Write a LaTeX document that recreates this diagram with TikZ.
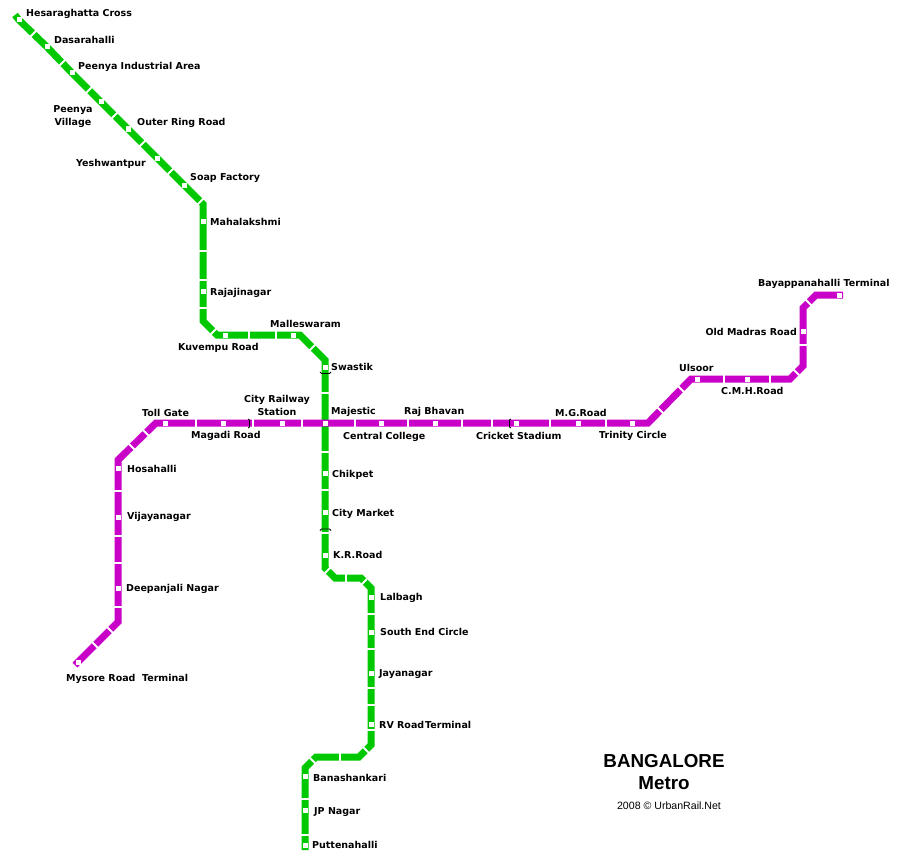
\documentclass[tikz,border=0pt]{standalone}
\usepackage{fontspec}
\setmainfont{DejaVu Sans}
\newfontfamily\titlefont{Liberation Sans}
\usetikzlibrary{positioning,backgrounds}
\definecolor{greenline}{RGB}{0,200,0}
\definecolor{purpleline}{RGB}{200,0,200}
\tikzset{
    stn/.style={rectangle, fill=white, minimum size=5pt, inner sep=0pt},
    lbl/.style={font=\fontsize{9.5}{13}\selectfont\bfseries, inner sep=0pt, anchor=west, text height=7pt, text depth=2pt},
    greenrun/.style={draw=greenline, line width=7pt},
    purplerun/.style={draw=purpleline, line width=7pt},
    gapv/.style={rectangle, fill=white, minimum width=2pt, minimum height=11pt, inner sep=0pt},
    gaph/.style={rectangle, fill=white, minimum width=11pt, minimum height=2pt, inner sep=0pt},
    gapne/.style={gapv, rotate=-45},
    gapnw/.style={gapv, rotate=45},
    portal/.style={draw=black, line width=0.8pt}
}

\begin{document}
\begin{tikzpicture}[x=1pt, y=-1pt]
    \useasboundingbox (0,0) rectangle (904,864);

    % green line stations
    \coordinate (gstart) at (15,15);
    \node[stn] (hesaraghatta) at (19,20) {};
    \node[stn] (dasarahalli) at (47,47) {};
    \node[stn] (peenyaind) at (72,73) {};
    \node[stn] (peenyavil) at (101,102) {};
    \node[stn] (outerring) at (128,129) {};
    \node[stn] (yeshwantpur) at (157,158) {};
    \node[stn] (soapfactory) at (184,185) {};
    \coordinate (gbend1) at (203,204);
    \node[stn] (mahalakshmi) at (203,221) {};
    \node[stn] (rajajinagar) at (203,291) {};
    \coordinate (gbend2) at (203,321);
    \coordinate (gbend3) at (217,335);
    \node[stn] (kuvempu) at (225,335) {};
    \node[stn] (malleswaram) at (293,335) {};
    \coordinate (gbend4) at (300,335);
    \coordinate (gbend5) at (325,360);
    \node[stn] (swastik) at (325,367) {};
    \node[stn] (chikpet) at (325,473) {};
    \node[stn] (citymarket) at (325,512) {};
    \node[stn] (krroad) at (325,555) {};
    \coordinate (gbend6) at (325,568);
    \coordinate (gbend7) at (335,578);
    \coordinate (gbend8) at (361,578);
    \coordinate (gbend9) at (371,588);
    \node[stn] (lalbagh) at (371,597) {};
    \node[stn] (southend) at (371,632) {};
    \node[stn] (jayanagar) at (371,673) {};
    \node[stn] (rvroad) at (371,724) {};
    \coordinate (gbend10) at (371,745);
    \coordinate (gbend11) at (359,757);
    \coordinate (gbend12) at (316,757);
    \coordinate (gbend13) at (305,768);
    \node[stn] (banashankari) at (305,776) {};
    \node[stn] (jpnagar) at (305,810) {};
    \node[stn] (puttenahalli) at (305,845) {};
    \coordinate (gend) at (305,850);

    % purple line stations
    \coordinate (pstart) at (75,665);
    \node[stn] (mysoreroad) at (78,662) {};
    \coordinate (pbend1) at (118,622);
    \node[stn] (deepanjali) at (118,588) {};
    \node[stn] (vijayanagar) at (118,517) {};
    \node[stn] (hosahalli) at (118,468) {};
    \coordinate (pbend2) at (118,460);
    \coordinate (pbend3) at (156,423);
    \node[stn] (tollgate) at (165,423) {};
    \node[stn] (magadi) at (223,423) {};
    \node[stn] (cityrailway) at (282,423) {};
    \node[stn] (majestic) at (325,423) {};
    \node[stn] (centralcollege) at (381,423) {};
    \node[stn] (rajbhavan) at (435,423) {};
    \node[stn] (cricket) at (516,423) {};
    \node[stn] (mgroad) at (578,423) {};
    \node[stn] (trinity) at (632,423) {};
    \coordinate (pbend4) at (648,423);
    \coordinate (pbend5) at (691,379);
    \node[stn] (ulsoor) at (697,379) {};
    \node[stn] (cmhroad) at (747,379) {};
    \coordinate (pbend6) at (790,379);
    \coordinate (pbend7) at (803,366);
    \node[stn] (oldmadras) at (803,331) {};
    \coordinate (pbend8) at (803,308);
    \coordinate (pbend9) at (816,295);
    \node[stn] (bayappanahalli) at (839,295) {};
    \coordinate (pend) at (843,295);

    \begin{scope}[on background layer]
        \draw[greenrun] (gstart) -- (hesaraghatta.center) -- (dasarahalli.center) -- (peenyaind.center) -- (peenyavil.center) -- (outerring.center) -- (yeshwantpur.center) -- (soapfactory.center) -- (gbend1) -- (mahalakshmi.center) -- (rajajinagar.center) -- (gbend2) -- (gbend3) -- (kuvempu.center) -- (malleswaram.center) -- (gbend4) -- (gbend5) -- (swastik.center) -- (majestic.center) -- (chikpet.center) -- (citymarket.center) -- (krroad.center) -- (gbend6) -- (gbend7) -- (gbend8) -- (gbend9) -- (lalbagh.center) -- (southend.center) -- (jayanagar.center) -- (rvroad.center) -- (gbend10) -- (gbend11) -- (gbend12) -- (gbend13) -- (banashankari.center) -- (jpnagar.center) -- (puttenahalli.center) -- (gend);
        \draw[purplerun] (pstart) -- (mysoreroad.center) -- (pbend1) -- (deepanjali.center) -- (vijayanagar.center) -- (hosahalli.center) -- (pbend2) -- (pbend3) -- (tollgate.center) -- (magadi.center) -- (cityrailway.center) -- (majestic.center) -- (centralcollege.center) -- (rajbhavan.center) -- (cricket.center) -- (mgroad.center) -- (trinity.center) -- (pbend4) -- (pbend5) -- (ulsoor.center) -- (cmhroad.center) -- (pbend6) -- (pbend7) -- (oldmadras.center) -- (pbend8) -- (pbend9) -- (bayappanahalli.center) -- (pend);
    \end{scope}

    % white breaks in the lines
    \foreach \x/\y in {33/34,62/63,89/90,115/115,143/143,171/171,201/201,214/331,313/347,328/570,363/583}
        \node[gapne] (gapa\x) at (\x,\y) {};
    \foreach \x/\y in {147/434,132/447,110/630,95/645,661/411,682/390,797/373,808/302,313/761,367/751}
        \node[gapnw] (gapb\x) at (\x,\y) {};
    \foreach \y in {251,280,308}
        \node[gaph] (gapc\y) at (203,\y) {};
    \foreach \y in {393,452,490,533}
        \node[gaph] (gapd\y) at (325,\y) {};
    \foreach \y in {614,649,688,705,730}
        \node[gaph] (gape\y) at (371,\y) {};
    \foreach \y in {799,835}
        \node[gaph] (gapf\y) at (305,\y) {};
    \foreach \y in {491,536,563,607}
        \node[gaph] (gapg\y) at (118,\y) {};
    \node[gaph] (gaph345) at (803,345) {};
    \foreach \x in {249,276}
        \node[gapv] (gapi\x) at (\x,335) {};
    \node[gapv] (gapj346) at (346,578) {};
    \node[gapv] (gapk340) at (340,757) {};
    \foreach \x in {196,253,302,355,408,462,492,550,606}
        \node[gapv] (gapl\x) at (\x,423) {};
    \foreach \x in {724,770}
        \node[gapv] (gapm\x) at (\x,379) {};

    % tunnel portals
    \draw[portal] (320,372) -- (321.5,373.5) -- (329.5,373.5) -- (331,372);
    \draw[portal] (320,530.5) -- (321.5,529) -- (329.5,529) -- (331,530.5);
    \draw[portal] (248,419) -- (249.5,420) -- (249.5,427) -- (248,428);
    \draw[portal] (511,419) -- (509.5,420) -- (509.5,427) -- (511,428);

    % station labels
    \node[lbl] (t1) at (26,14) {Hesaraghatta Cross};
    \node[lbl] (t2) at (54,41) {Dasarahalli};
    \node[lbl] (t3) at (78,67) {Peenya Industrial Area};
    \node[lbl, anchor=center, align=center] (t4) at (73,123) {Peenya\\Village};
    \node[lbl] (t5) at (137,123) {Outer Ring Road};
    \node[lbl] (t6) at (76,164) {Yeshwantpur};
    \node[lbl] (t7) at (190,178) {Soap Factory};
    \node[lbl] (t8) at (210,223) {Mahalakshmi};
    \node[lbl] (t9) at (210,293) {Rajajinagar};
    \node[lbl] (t10) at (178,348) {Kuvempu Road};
    \node[lbl] (t11) at (270,325) {Malleswaram};
    \node[lbl] (t12) at (331,368) {Swastik};
    \node[lbl, anchor=center, align=center] (t13) at (277,413) {City Railway\\Station};
    \node[lbl] (t14) at (331,412) {Majestic};
    \node[lbl] (t15) at (404,412) {Raj Bhavan};
    \node[lbl] (t16) at (191,436) {Magadi Road};
    \node[lbl] (t17) at (343,437) {Central College};
    \node[lbl] (t18) at (476,437) {Cricket Stadium};
    \node[lbl] (t19) at (555,414) {M.G.Road};
    \node[lbl] (t20) at (599,436) {Trinity Circle};
    \node[lbl] (t21) at (679,369) {Ulsoor};
    \node[lbl] (t22) at (721,392) {C.M.H.Road};
    \node[lbl, anchor=east] (t23) at (797,333) {Old Madras Road};
    \node[lbl] (t24) at (758,284) {Bayappanahalli Terminal};
    \node[lbl] (t25) at (142,414) {Toll Gate};
    \node[lbl] (t26) at (127,470) {Hosahalli};
    \node[lbl] (t27) at (127,517) {Vijayanagar};
    \node[lbl] (t28) at (126,589) {Deepanjali Nagar};
    \node[lbl] (t29) at (66,679) {Mysore Road\ \ Terminal};
    \node[lbl] (t30) at (332,475) {Chikpet};
    \node[lbl] (t31) at (332,514) {City Market};
    \node[lbl] (t32) at (333,556) {K.R.Road};
    \node[lbl] (t33) at (380,598) {Lalbagh};
    \node[lbl] (t34) at (380,633) {South End Circle};
    \node[lbl] (t35) at (379,674) {Jayanagar};
    \node[lbl] (t36) at (379,726) {RV Road\hspace{1pt}Terminal};
    \node[lbl] (t37) at (313,779) {Banashankari};
    \node[lbl] (t38) at (314,812) {JP Nagar};
    \node[lbl] (t39) at (312,846) {Puttenahalli};

    % title
    \node[font=\titlefont\bfseries\fontsize{18.8}{20}\selectfont, inner sep=0pt] (title) at (664,761) {BANGALORE};
    \node[font=\titlefont\bfseries\fontsize{18.8}{20}\selectfont, inner sep=0pt] (subtitle) at (664,783) {Metro};
    \node[font=\titlefont\fontsize{10.6}{12}\selectfont, inner sep=0pt] (credit) at (669,806) {2008 © UrbanRail.Net};
\end{tikzpicture}
\end{document}
